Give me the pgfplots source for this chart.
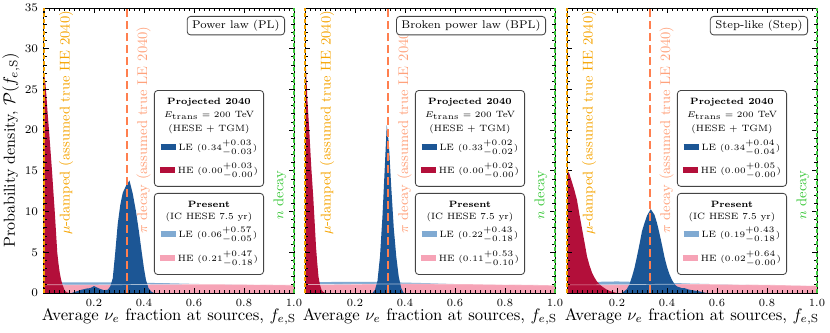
\documentclass[border=0pt]{standalone}
\usepackage{amsmath}
\usepackage{pgfplots}
\usepackage{pgfplotstable}
\pgfplotsset{compat=1.18}

\definecolor{leproj}{HTML}{1C5695}
\definecolor{heproj}{HTML}{B30F3A}
\definecolor{lenow}{HTML}{80AAD2}
\definecolor{henow}{HTML}{F6A3B6}
\definecolor{mudamp}{HTML}{F5A300}
\definecolor{pidec}{HTML}{FF7F4F}
\definecolor{pitext}{HTML}{FFA27C}
\definecolor{ndec}{HTML}{3CC83C}
\definecolor{boxgray}{HTML}{444444}

\newcommand{\legpatch}[1]{\textcolor{#1}{\rule[0.1ex]{9pt}{3.4pt}}\hspace{1.8pt}}

% present (IC HESE 7.5 yr) posteriors, one table per panel
\pgfplotstableread{
x     le    he
0.00  1.30  1.02
0.10  1.30  1.00
0.20  1.32  1.00
0.30  1.30  1.02
0.40  1.25  1.05
0.50  1.20  1.07
0.60  1.12  1.08
0.70  1.05  1.08
0.80  0.98  1.06
0.90  0.92  1.02
1.00  0.85  0.98
}\nowPL
\pgfplotstableread{
x     le    he
0.00  1.35  1.05
0.10  1.35  1.05
0.20  1.38  1.08
0.30  1.35  1.10
0.40  1.28  1.12
0.50  1.20  1.12
0.60  1.10  1.10
0.70  1.02  1.08
0.80  0.95  1.04
0.90  0.88  1.00
1.00  0.82  0.95
}\nowBPL
\pgfplotstableread{
x     le    he
0.00  1.32  1.00
0.10  1.36  1.00
0.20  1.42  1.02
0.30  1.34  1.05
0.40  1.25  1.08
0.50  1.16  1.10
0.60  1.08  1.08
0.70  1.00  1.04
0.80  0.94  1.00
0.90  0.88  0.95
1.00  0.82  0.90
}\nowStep

\pgfplotsset{
  panel/.style={
    scale only axis, width=150pt, height=171pt,
    xmin=0, xmax=1, ymin=0, ymax=35,
    xtick={0,0.2,0.4,0.6,0.8,1}, xticklabels={,0.2,0.4,0.6,0.8,1.0},
    ytick={0,5,10,15,20,25,30,35},
    minor x tick num=9, minor y tick num=4,
    tick align=inside, tick pos=both,
    major tick length=3pt, minor tick length=1.6pt,
    tick style={black, line width=0.45pt},
    axis line style={line width=0.6pt},
    tick label style={font=\fontsize{6.6}{7}\selectfont},
    label style={font=\fontsize{10}{12}\selectfont},
    xlabel={Average $\nu_e$ fraction at sources, $f_{e,\mathrm{S}}$},
    xlabel style={at={(axis description cs:0.5,-0.083)}, anchor=center},
    set layers, axis on top,
  },
  lines/.style={on layer=axis foreground},
}
\tikzset{
  legbox/.style={draw=boxgray, line width=0.5pt, rounded corners=2pt, fill=white,
    anchor=north east, align=center, minimum width=57pt, inner ysep=4.5pt,
    font=\fontsize{5.5}{8}\selectfont},
  titlebox/.style={draw=boxgray, line width=0.5pt, rounded corners=2pt, fill=white,
    anchor=north east, inner xsep=3pt, inner ysep=2.2pt,
    font=\fontsize{6.7}{8}\selectfont},
  vlab/.style={rotate=90, font=\fontsize{8.5}{10}\selectfont},
}

\newcommand{\reflines}{%
  \addplot[lines, mudamp, line width=1.2pt, dash pattern=on 2.4pt off 1.2pt] coordinates {(0,0) (0,35)};
  \addplot[lines, pidec, line width=1.1pt, dash pattern=on 4.8pt off 2.4pt] coordinates {(0.3333,0) (0.3333,35)};
  \addplot[lines, ndec, line width=1.2pt, dash pattern=on 2.4pt off 1.2pt] coordinates {(1,0) (1,35)};
  \node[vlab, text=mudamp] at (axis cs:0.088,20.9) {$\mu$-damped (assumed true HE 2040)};
  \node[vlab, text=pitext] at (axis cs:0.398,20.0) {$\pi$ decay (assumed true LE 2040)};
  \node[vlab, text=ndec] at (axis cs:0.944,12.0) {$n$ decay};
}

\newcommand{\boxes}[5]{%
  \node[titlebox] at (rel axis cs:0.964,0.972) {#1};
  \node[legbox] at (rel axis cs:0.88,0.712) {%
    \textbf{Projected 2040}\\
    $E_{\mathrm{trans}} = 200$ TeV\\
    (HESE + TGM)\\[3.4pt]
    \legpatch{leproj}LE $(#2)$\\[3.4pt]
    \legpatch{heproj}HE $(#3)$};
  \node[legbox] at (rel axis cs:0.88,0.351) {%
    \textbf{Present}\\[-0.4pt]
    (IC HESE 7.5 yr)\\[2.4pt]
    \legpatch{lenow}LE $(#4)$\\[4pt]
    \legpatch{henow}HE $(#5)$};
}

\begin{document}
\begin{tikzpicture}

% ---------------- Power law ----------------
\begin{axis}[panel, at={(0pt,0pt)},
  ylabel={Probability density, $\mathcal{P}(f_{e,\mathrm{S}})$},
  ylabel style={at={(axis description cs:-0.132,0.5)}, anchor=center, font=\fontsize{9.6}{11}\selectfont}]
  \addplot[draw=none, fill=lenow] table[x=x, y=le] {\nowPL} \closedcycle;
  \addplot[draw=none, fill=henow] table[x=x, y=he] {\nowPL} \closedcycle;
  \addplot[draw=none, fill=heproj] coordinates {(0,0) (0,27) (0.005,26) (0.009,24.5) (0.014,22.3) (0.02,20) (0.026,17.5) (0.032,15) (0.037,12.7) (0.043,10) (0.048,7.5) (0.053,5) (0.058,3.6) (0.063,2.5) (0.068,1.7) (0.072,1.2) (0.078,0.7) (0.083,0.3) (0.09,0.1) (0.1,0)} \closedcycle;
  \addplot[draw=none, fill=leproj] coordinates {(0.11,0) (0.13,0.2) (0.15,0.4) (0.17,0.55) (0.185,0.6) (0.2,0.85) (0.21,0.7) (0.225,0.5) (0.24,0.35) (0.255,0.4) (0.265,0.8) (0.275,1.8) (0.285,5.0) (0.295,8.5) (0.305,10.8) (0.315,12.3) (0.33,13.3) (0.342,13.8) (0.355,12.2) (0.368,10) (0.38,7.5) (0.391,5) (0.40,3) (0.408,1.6) (0.418,0.6) (0.43,0.15) (0.44,0)} \closedcycle;
  \addplot[white, opacity=0.6, line width=0.4pt] table[x=x, y=he] {\nowPL};
  \reflines
  \boxes{Power law (PL)}{0.34^{+0.03}_{-0.03}}{0.00^{+0.03}_{-0.00}}{0.06^{+0.57}_{-0.05}}{0.21^{+0.47}_{-0.18}}
\end{axis}

% ---------------- Broken power law ----------------
\begin{axis}[panel, at={(156.6pt,0pt)}, yticklabels={}]
  \addplot[draw=none, fill=lenow] table[x=x, y=le] {\nowBPL} \closedcycle;
  \addplot[draw=none, fill=henow] table[x=x, y=he] {\nowBPL} \closedcycle;
  \addplot[draw=none, fill=heproj] coordinates {(0,0) (0,30) (0.004,27.5) (0.01,23.5) (0.017,20) (0.025,15.5) (0.033,11.8) (0.039,8.5) (0.044,5.7) (0.049,3.7) (0.054,2.0) (0.06,1.0) (0.066,0.4) (0.072,0.15) (0.08,0)} \closedcycle;
  \addplot[draw=none, fill=leproj] coordinates {(0.27,0) (0.28,0.4) (0.29,1.5) (0.30,4.5) (0.31,9.5) (0.32,16) (0.327,20.6) (0.335,18.5) (0.345,13) (0.355,8) (0.365,4.5) (0.375,2) (0.385,0.6) (0.395,0)} \closedcycle;
  \addplot[white, opacity=0.6, line width=0.4pt] table[x=x, y=he] {\nowBPL};
  \reflines
  \boxes{Broken power law (BPL)}{0.33^{+0.02}_{-0.02}}{0.00^{+0.02}_{-0.00}}{0.22^{+0.43}_{-0.18}}{0.11^{+0.53}_{-0.10}}
\end{axis}

% ---------------- Step-like ----------------
\begin{axis}[panel, at={(313.8pt,0pt)}, yticklabels={}]
  \addplot[draw=none, fill=lenow] table[x=x, y=le] {\nowStep} \closedcycle;
  \addplot[draw=none, fill=henow] table[x=x, y=he] {\nowStep} \closedcycle;
  \addplot[draw=none, fill=heproj] coordinates {(0,0) (0,15.2) (0.01,14.6) (0.02,13.6) (0.03,12.6) (0.04,11.4) (0.05,9.6) (0.063,7.4) (0.072,5.9) (0.08,4.5) (0.09,3.4) (0.1,2.5) (0.11,1.9) (0.12,1.4) (0.14,0.8) (0.16,0.4) (0.18,0.15) (0.2,0)} \closedcycle;
  \addplot[draw=none, fill=leproj] coordinates {(0.22,0) (0.24,0.5) (0.25,1.1) (0.26,2.0) (0.27,3.1) (0.28,4.5) (0.29,6.0) (0.30,7.6) (0.31,8.6) (0.32,9.5) (0.335,10.3) (0.35,9.6) (0.36,8.6) (0.37,7.3) (0.38,5.9) (0.39,4.4) (0.40,3.2) (0.41,2.3) (0.42,1.6) (0.43,1.1) (0.44,0.8) (0.45,0.7) (0.46,0.6) (0.47,0.6) (0.48,0.5) (0.49,0.4) (0.51,0.3) (0.53,0.2) (0.55,0.05) (0.56,0)} \closedcycle;
  \addplot[white, opacity=0.6, line width=0.4pt] table[x=x, y=he] {\nowStep};
  \reflines
  \boxes{Step-like (Step)}{0.34^{+0.04}_{-0.04}}{0.00^{+0.05}_{-0.00}}{0.19^{+0.43}_{-0.18}}{0.02^{+0.64}_{-0.00}}
\end{axis}

\pgfresetboundingbox
\path[use as bounding box] (-26.4pt,-23.4pt) rectangle (471.6pt,175.8pt);
\end{tikzpicture}
\end{document}
